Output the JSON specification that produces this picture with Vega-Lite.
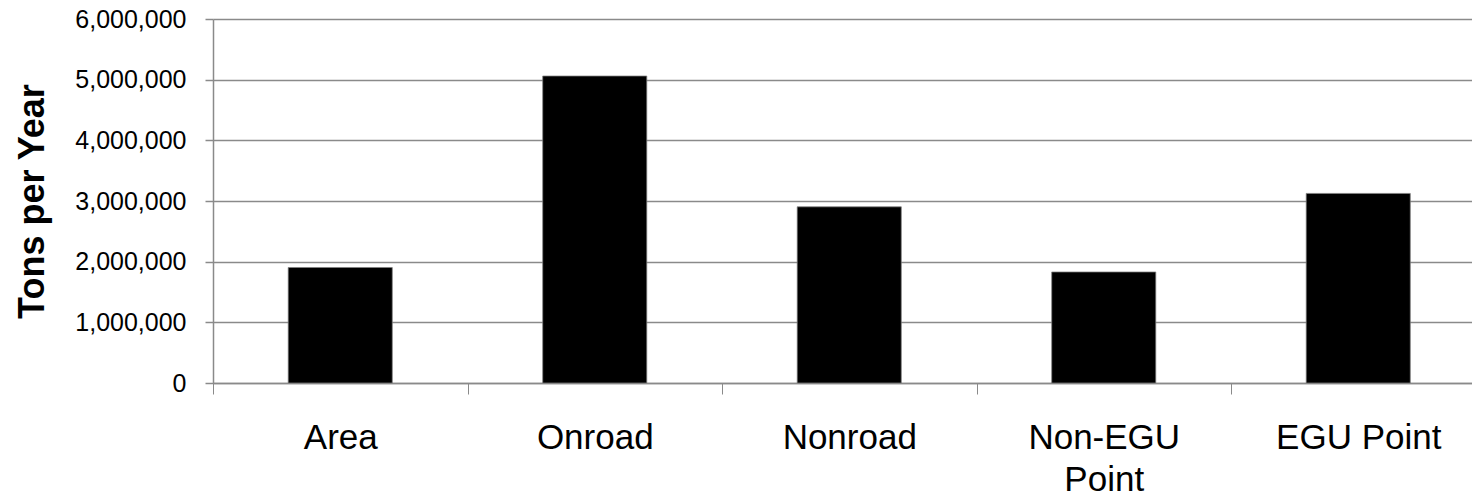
{
  "$schema": "https://vega.github.io/schema/vega-lite/v6.json",
  "autosize": {"type": "none"},
  "padding": {"left": 213, "top": 19, "right": 0, "bottom": 115},
  "width": 1259,
  "height": 364,
  "background": "white",
  "config": {
    "view": {"stroke": null},
    "font": "Liberation Sans"
  },
  "data": {
    "values": [
      {"source": "Area", "tons": 1904000},
      {"source": "Onroad", "tons": 5060000},
      {"source": "Nonroad", "tons": 2904000},
      {"source": "Non-EGU Point", "tons": 1830000},
      {"source": "EGU Point", "tons": 3125000}
    ]
  },
  "mark": {"type": "bar", "color": "#000000", "stroke": "#808080", "strokeWidth": 0.75},
  "encoding": {
    "x": {
      "field": "source",
      "type": "nominal",
      "sort": null,
      "scale": {"range": [0, 1272.5], "paddingInner": 0.591, "paddingOuter": 0.2955},
      "axis": {
        "title": null,
        "labelAngle": 0,
        "labelFont": "Liberation Sans",
        "labelFontSize": 35,
        "labelColor": "#000000",
        "labelBaseline": "top",
        "labelPadding": 26,
        "labelLineHeight": 42,
        "labelExpr": "datum.label == 'Non-EGU Point' ? ['Non-EGU', 'Point'] : datum.label",
        "tickBand": "center",
        "tickOffset": -127.25,
        "labelOffset": 127.25,
        "tickSize": 11,
        "tickColor": "#8a8a8a",
        "tickWidth": 1,
        "domainColor": "#8a8a8a",
        "domainWidth": 1.5,
        "grid": false
      }
    },
    "y": {
      "field": "tons",
      "type": "quantitative",
      "scale": {"domain": [0, 6000000], "nice": false, "zero": true},
      "axis": {
        "title": "Tons per Year",
        "titleFont": "Liberation Sans",
        "titleFontSize": 36,
        "titleFontWeight": "bold",
        "titleColor": "#000000",
        "titleAngle": -90,
        "titleBaseline": "alphabetic",
        "titleX": -170,
        "titleY": 182,
        "titleAlign": "center",
        "values": [0, 1000000, 2000000, 3000000, 4000000, 5000000, 6000000],
        "format": ",d",
        "labelFont": "Liberation Sans",
        "labelFontSize": 25,
        "labelColor": "#000000",
        "labelPadding": 19,
        "tickSize": 8,
        "tickColor": "#8a8a8a",
        "tickWidth": 1.5,
        "domainColor": "#8a8a8a",
        "domainWidth": 1.5,
        "grid": true,
        "gridColor": "#8a8a8a",
        "gridWidth": 1.5
      }
    }
  }
}
